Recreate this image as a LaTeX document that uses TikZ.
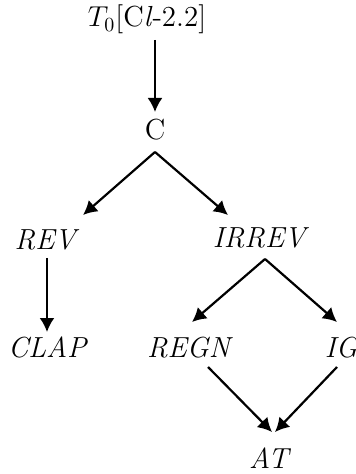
\documentclass[tikz,border=0pt]{standalone}
\usepackage{amsmath}
\usepackage{tikz}
\usetikzlibrary{arrows.meta}
\begin{document}
\begin{tikzpicture}[
        x=0.5pt,y=-0.5pt,
        arr/.style={-{Latex[length=7pt,width=7.5pt]},line width=1.1pt},
        every node/.style={font=\fontsize{14.5}{16}\selectfont,inner sep=0pt,anchor=base}]

    \useasboundingbox (0,0) rectangle (355,474);

    \node (top) at (147,27) {$T_0$[C\textit{l}-2.2]};
    \node (c)     at (155,140) {C};
    \node (rev)   at (47,250)  {\textit{REV}};
    \node (irrev) at (261,248) {\textit{IRREV}};
    \node (clap)  at (48,357)  {\textit{CLAP}};
    \node (regn)  at (190,357) {\textit{REGN}};
    \node (ig)    at (342,357) {\textit{IG}};
    \node (at)    at (270,468) {\textit{AT}};

    \draw[arr] ([shift={(8,13)}]top.base) -- ([shift={(0,-28)}]c.base);
    \draw[arr] ([shift={(0,12)}]c.base) -- ([shift={(36,-35)}]rev.base);
    \draw[arr] ([shift={(0,12)}]c.base) -- ([shift={(-33,-33)}]irrev.base);
    \draw[arr] ([shift={(0,8)}]rev.base) -- ([shift={(-1,-25)}]clap.base);
    \draw[arr] ([shift={(4,11)}]irrev.base) -- ([shift={(2,-35)}]regn.base);
    \draw[arr] ([shift={(4,11)}]irrev.base) -- ([shift={(-5,-35)}]ig.base);
    \draw[arr] ([shift={(18,10)}]regn.base) -- ([shift={(2,-36)}]at.base);
    \draw[arr] ([shift={(-5,10)}]ig.base) -- ([shift={(5,-36)}]at.base);
\end{tikzpicture}
\end{document}
